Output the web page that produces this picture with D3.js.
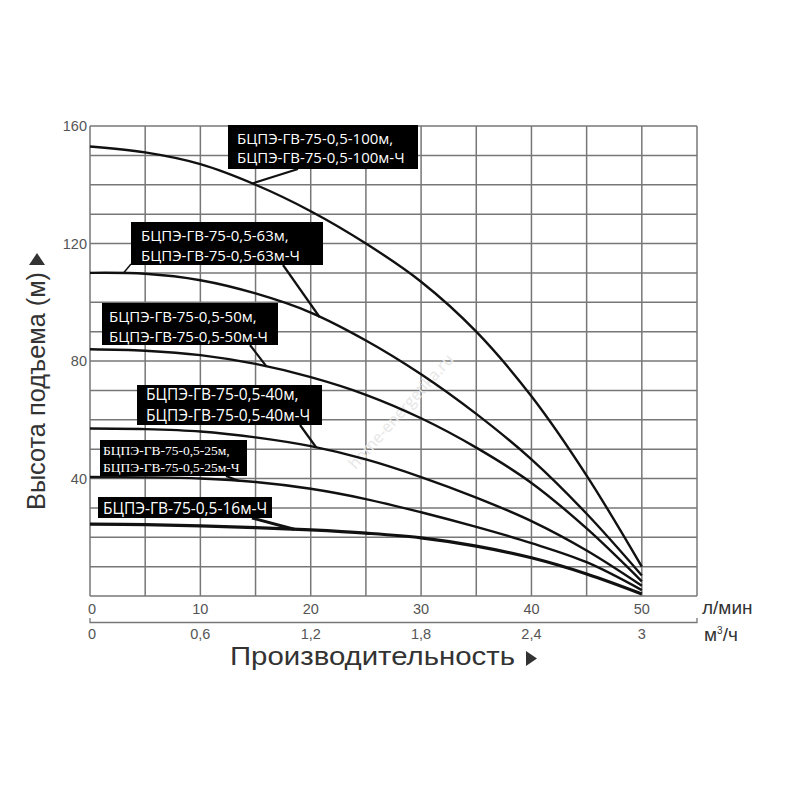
<!DOCTYPE html>
<html>
<head>
<meta charset="utf-8">
<script src="https://cdn.jsdelivr.net/npm/d3@7"></script>
<style>
  body { margin: 0; background: #fff; }
  svg { display: block; }
</style>
</head>
<body>
<svg id="canvas"></svg>
<script>
// flow, l/min
let flow = [0, 5, 10, 15, 20, 25, 30, 35, 40, 45, 50]

// head (m) per pump model
let head100 = [153, 151, 147, 140, 131, 120, 107, 90, 68, 41, 10]
let head63  = [110, 109.7, 107.5, 103, 96.5, 87, 75.5, 62, 46.5, 28, 7]
let head50  = [84, 83.5, 82, 79, 74.5, 68.5, 60.5, 50.5, 38.5, 23, 5]
let head40  = [57, 56.8, 56, 54, 51, 46.5, 40.5, 33.5, 25.5, 15.5, 3.5]
let head25  = [40.5, 40.4, 40, 38.8, 36.5, 33, 28.5, 23.5, 18, 11.5, 2]
let head16  = [24.5, 24.3, 23.9, 23.3, 22.5, 21.4, 19.8, 17, 13, 7.5, 0.7]

let yTicks = [40, 80, 120, 160]
let xTicksLpm = [0, 10, 20, 30, 40, 50]
let xTicksM3h = [0, 0.6, 1.2, 1.8, 2.4, 3]

let labelText = [
  ['БЦПЭ-ГВ-75-0,5-100м,', 'БЦПЭ-ГВ-75-0,5-100м-Ч'],
  ['БЦПЭ-ГВ-75-0,5-63м,', 'БЦПЭ-ГВ-75-0,5-63м-Ч'],
  ['БЦПЭ-ГВ-75-0,5-50м,', 'БЦПЭ-ГВ-75-0,5-50м-Ч'],
  ['БЦПЭ-ГВ-75-0,5-40м,', 'БЦПЭ-ГВ-75-0,5-40м-Ч'],
  ['БЦПЭ-ГВ-75-0,5-25м,', 'БЦПЭ-ГВ-75-0,5-25м-Ч'],
  ['БЦПЭ-ГВ-75-0,5-16м-Ч']
]
// flow where each label's pointer meets its curve
let pointerFlow = [14.7, 20.8, 16, 20.5, 13.5, 18.5]

let series = [head100, head63, head50, head40, head25, head16]

let width = 800
let height = 800
let plotLeft = 90, plotRight = 697, plotTop = 126, plotBottom = 596

// box layout for labels: [x0, y0, x1, y1], text x, first baseline, line step, font
let labelLayout = [
  {box: [228, 125, 418, 169], tx: 237, ty: 144, step: 19, font: '"Open Sans", sans-serif', size: 15, from: [298, 169]},
  {box: [131, 222, 323, 265], tx: 141, ty: 241, step: 20, font: '"Open Sans", sans-serif', size: 15, from: [283, 265]},
  {box: [102, 303, 278, 345], tx: 109, ty: 322, step: 20, font: '"Open Sans", sans-serif', size: 15, from: [250, 345]},
  {box: [137, 385, 322, 425], tx: 146, ty: 400, step: 20.5, font: '"Open Sans", sans-serif', size: 15.5, from: [300, 425]},
  {box: [100, 440, 247, 476], tx: 103, ty: 455, step: 16.5, font: '"Liberation Serif", serif', size: 13.5, from: [226, 476]},
  {box: [98, 497, 272, 518], tx: 103, ty: 514, step: 0, font: '"Open Sans", sans-serif', size: 15.5, from: [252, 518]}
]

let svg = d3.select('#canvas').attr('width', width).attr('height', height)

let xScale = d3.scaleLinear().domain([0, 55]).range([plotLeft, plotRight])
let xScale2 = d3.scaleLinear().domain([0, 3.3]).range([plotLeft, plotRight])
let yScale = d3.scaleLinear().domain([0, 160]).range([plotBottom, plotTop])

let at = (h, q) => {
  let i = Math.min(flow.length - 2, Math.floor(q / 5))
  let t = (q - flow[i]) / (flow[i + 1] - flow[i])
  return h[i] + (h[i + 1] - h[i]) * t
}

// grid
let grid = svg.append('g').attr('stroke', '#777').attr('stroke-width', 1.5)
grid.selectAll('line.v').data(d3.range(0, 56, 5)).join('line').attr('class', 'v')
  .attr('x1', d => xScale(d)).attr('x2', d => xScale(d))
  .attr('y1', plotTop).attr('y2', plotBottom)
grid.selectAll('line.h').data(d3.range(0, 161, 10)).join('line').attr('class', 'h')
  .attr('x1', plotLeft).attr('x2', plotRight)
  .attr('y1', d => yScale(d)).attr('y2', d => yScale(d))

// watermark
svg.append('text')
  .attr('transform', 'translate(405,415) rotate(-48)')
  .attr('text-anchor', 'middle')
  .style('font-family', '"Open Sans", sans-serif').style('font-size', '16px')
  .attr('fill', '#e6e6e6')
  .text('home-energetika.ru')

// y ticks
svg.append('g').selectAll('text').data(yTicks).join('text')
  .attr('x', plotLeft - 3).attr('y', d => yScale(d) + 5)
  .attr('text-anchor', 'end')
  .style('font-family', '"Liberation Sans", Arial, sans-serif').style('font-size', '14.5px')
  .attr('fill', '#555')
  .text(d => d)

// bottom axes
svg.append('g').selectAll('text').data(xTicksLpm).join('text')
  .attr('x', d => xScale(d) + (d === 0 ? 2 : 0)).attr('y', 614)
  .attr('text-anchor', 'middle')
  .style('font-family', '"Liberation Sans", Arial, sans-serif').style('font-size', '14.5px')
  .attr('fill', '#555')
  .text(d => d)

svg.append('path')
  .attr('d', `M${plotLeft},618 L${plotLeft},622.5 L${plotRight},622.5 L${plotRight},618`)
  .attr('fill', 'none').attr('stroke', '#777').attr('stroke-width', 1.3)

svg.append('g').selectAll('text').data(xTicksM3h).join('text')
  .attr('x', d => xScale2(d) + (d === 0 ? 2 : 0)).attr('y', 639)
  .attr('text-anchor', 'middle')
  .style('font-family', '"Liberation Sans", Arial, sans-serif').style('font-size', '14.5px')
  .attr('fill', '#555')
  .text(d => String(d).replace('.', ','))

svg.append('text').attr('x', 702).attr('y', 614)
  .style('font-family', '"Liberation Sans", Arial, sans-serif').style('font-size', '19px')
  .attr('fill', '#333').text('л/мин')
let m3 = svg.append('text').attr('x', 704).attr('y', 641)
  .style('font-family', '"Liberation Sans", Arial, sans-serif').style('font-size', '19px')
  .attr('fill', '#333')
m3.append('tspan').text('м')
m3.append('tspan').attr('dy', -7).style('font-size', '10px').text('3')
m3.append('tspan').attr('dy', 7).text('/ч')

// axis titles
svg.append('text').attr('x', 230).attr('y', 665)
  .attr('textLength', 285).attr('lengthAdjust', 'spacingAndGlyphs')
  .style('font-family', '"Liberation Sans", Arial, sans-serif').style('font-size', '25px')
  .attr('fill', '#333').text('Производительность')
svg.append('path')
  .attr('d', 'M526,651 L537,658.5 L526,666 Z')
  .attr('fill', '#333')

svg.append('text')
  .attr('transform', 'translate(45,510) rotate(-90)')
  .attr('textLength', 238).attr('lengthAdjust', 'spacingAndGlyphs')
  .style('font-family', '"Liberation Sans", Arial, sans-serif').style('font-size', '25px')
  .attr('fill', '#333').text('Высота подъема (м)')
svg.append('path')
  .attr('d', 'M29,265 L37,253 L45,265 Z')
  .attr('fill', '#333')

// curves
let line = d3.line()
  .x((d, i) => xScale(flow[i]))
  .y(d => yScale(d))
  .curve(d3.curveCatmullRom.alpha(0.5))

svg.append('g').selectAll('path').data(series).join('path')
  .attr('d', d => line(d))
  .attr('fill', 'none').attr('stroke', '#111')
  .attr('stroke-width', (d, i) => i === 5 ? 3.2 : 2.4)

// labels
let labels = svg.append('g')
labelText.forEach((lines, i) => {
  let lay = labelLayout[i]
  let q = pointerFlow[i]
  labels.append('line')
    .attr('x1', lay.from[0]).attr('y1', lay.from[1])
    .attr('x2', xScale(q)).attr('y2', yScale(at(series[i], q)))
    .attr('stroke', '#111').attr('stroke-width', i === 5 ? 3 : 2.2)
  labels.append('rect')
    .attr('x', lay.box[0]).attr('y', lay.box[1])
    .attr('width', lay.box[2] - lay.box[0]).attr('height', lay.box[3] - lay.box[1])
    .attr('fill', '#000')
  lines.forEach((t, j) => {
    labels.append('text')
      .attr('x', lay.tx).attr('y', lay.ty + j * lay.step)
      .style('font-family', lay.font).style('font-size', lay.size + 'px')
      .attr('fill', '#fff')
      .text(t)
  })
})

// short pointer from 63m box down to its curve start
labels.append('line')
  .attr('x1', 131).attr('y1', 264)
  .attr('x2', xScale(3)).attr('y2', yScale(at(head63, 3)))
  .attr('stroke', '#111').attr('stroke-width', 1.5)
</script>
</body>
</html>
